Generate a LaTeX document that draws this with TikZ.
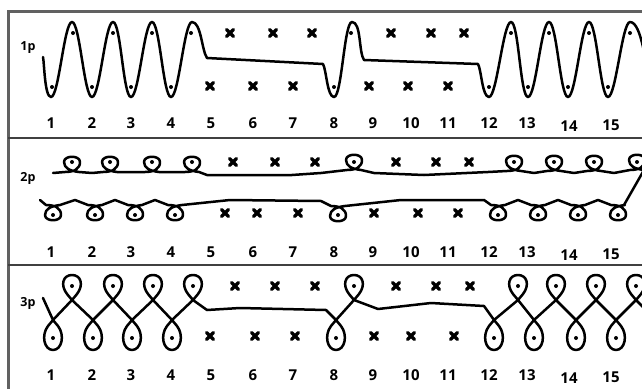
\documentclass[tikz,border=0pt]{standalone}
\usepackage{fontspec}
\setmainfont{Open Sans}

% curl of a running line: above it (2p top) / below it (2p bottom)
\newcommand{\hiloop}[2]{-- (#1-7,#2) .. controls (#1+2,#2) and (#1+8,#2-3) .. (#1+8,#2-10) .. controls (#1+8,#2-17) and (#1-8,#2-17) .. (#1-8,#2-10) .. controls (#1-8,#2-4) and (#1-2,#2-1) .. (#1+7,#2)}
\newcommand{\loloop}[2]{-- (#1-7,#2) .. controls (#1+2,#2) and (#1+8,#2+3) .. (#1+8,#2+10) .. controls (#1+8,#2+17) and (#1-8,#2+17) .. (#1-8,#2+10) .. controls (#1-8,#2+4) and (#1-2,#2+1) .. (#1+7,#2)}
% teardrops of the figure-eight chain (3p)
\newcommand{\updrop}[1]{-- (#1,300) -- (#1+5,294) .. controls (#1+12,285) and (#1+9,275) .. (#1,275) .. controls (#1-9,275) and (#1-12,285) .. (#1-5,294) -- (#1,300)}
\newcommand{\dndrop}[1]{-- (#1,320) -- (#1+5,326) .. controls (#1+12,335) and (#1+9,350) .. (#1,350) .. controls (#1-9,350) and (#1-12,335) .. (#1-5,326) -- (#1,320)}

\begin{document}
\begin{tikzpicture}[x=1pt,y=-1pt,
    wave/.style={line width=2.5pt, line join=round, line cap=round},
    sine/.style={out=0, in=180, looseness=0.26},
    frame/.style={line width=3pt, black!62},
    rule/.style={line width=2.5pt, black!75},
    xmark/.pic={\draw[line width=3.4pt, line cap=round] (-3.4,-3.4) -- (3.4,3.4) (-3.4,3.4) -- (3.4,-3.4);},
    dot/.style={circle, fill, inner sep=0pt, minimum size=4pt},
    num/.style={font=\bfseries\fontsize{15}{15}\selectfont},
    tag/.style={font=\bfseries\fontsize{12.5}{12.5}\selectfont}]
    \useasboundingbox (0,0) rectangle (642,388);

    % frame and panel rules
    \draw[frame] (8,390) -- (8,11) -- (645,11);
    \draw[rule] (8,138) -- (645,138);
    \draw[rule] (8,265) -- (645,265);

    % position numbers in each panel
    \foreach \i/\x/\d in {1/51/0,2/92/0,3/131/0,4/171/0,5/211/0,6/253/0,7/293/0,8/334/0,
                          9/373/0,10/411/0,11/448/0,12/489/0,13/527/0,14/569/3,15/611/2} {
        \node[num] (a\i) at (\x,123+\d) {\i};
        \node[num] (b\i) at (\x,252+\d) {\i};
        \node[num] (c\i) at (\x,375+\d) {\i};
    }
    \node[tag] (p1) at (28,48) {1p};
    \node[tag] (p2) at (28,178) {2p};
    \node[tag] (p3) at (28,303) {3p};

    % 1p: sine wave
    \draw[wave] (43,57) to[out=-78,in=180,looseness=0.4] (51,97)
        to[sine] (72,22) to[sine] (92,97) to[sine] (113,22) to[sine] (131,97)
        to[sine] (152,22) to[sine] (171,97) to[sine] (192,22)
        to[out=0,in=125,looseness=0.6] (207,58) -- (323,64)
        to[out=-60,in=180,looseness=0.5] (334,97) to[sine] (352,22)
        to[out=0,in=125,looseness=0.6] (364,60) -- (478,64)
        to[out=-60,in=180,looseness=0.5] (489,97) to[sine] (511,22) to[sine] (528,97)
        to[sine] (549,22) to[sine] (568,97) to[sine] (589,22) to[sine] (608,97)
        to[sine] (630,22) to[out=0,in=110,looseness=0.5] (650,80);
    \foreach \x [count=\k] in {52,92,131,171,334,489,528,568,608}
        \node[dot] (d1l\k) at (\x,87) {};
    \foreach \x [count=\k] in {73,113,152,191,351,511,549,589,630}
        \node[dot] (d1u\k) at (\x,33) {};
    \foreach \x [count=\k] in {230,273,312,391,431,464}
        \pic (x1u\k) at (\x,33) {xmark};
    \foreach \x [count=\k] in {210,253,293,369,408,448}
        \pic (x1l\k) at (\x,86) {xmark};

    % 2p: two curled lines
    \draw[wave] (53,173) \hiloop{72}{172} -- (92,173) \hiloop{110}{172}
        -- (132,172) \hiloop{152}{172} -- (172,172) \hiloop{192}{172}
        -- (207,175) -- (292,175) -- (321,173) \hiloop{354}{170}
        -- (374,173) -- (424,175) -- (488,172) \hiloop{514}{171}
        -- (534,173) \hiloop{554}{171} -- (574,173) \hiloop{594}{171}
        -- (614,173) \hiloop{637}{170} -- (624,205);
    \draw[wave] (40,200) \loloop{53}{205} -- (75,200) \loloop{95}{205}
        -- (115,200) \loloop{135}{205} -- (155,200) \loloop{175}{205}
        -- (230,200) -- (321,201) \loloop{338}{206} -- (401,200) -- (484,200)
        \loloop{498}{205} -- (518,200) \loloop{538}{205} -- (558,200)
        \loloop{578}{205} -- (598,200) \loloop{618}{205};
    \foreach \x [count=\k] in {72,110,152,192,354,514,554,594,637}
        \node[dot] (d2u\k) at (\x,162) {};
    \foreach \x [count=\k] in {53,95,135,175,338,498,538,578,618}
        \node[dot] (d2l\k) at (\x,215) {};
    \foreach \x [count=\k] in {233,275,315,396,436,469}
        \pic (x2u\k) at (\x,162) {xmark};
    \foreach \x [count=\k] in {225,257,298,374,418,458}
        \pic (x2l\k) at (\x,213) {xmark};

    % 3p: figure-eight chain
    \draw[wave] (43,298) \dndrop{53} \updrop{72} \dndrop{93} \updrop{113}
        \dndrop{132} \updrop{153} \dndrop{172} \updrop{193}
        -- (207,310) -- (240,308) -- (326,310) \dndrop{336} \updrop{354}
        -- (378,309) -- (431,303) -- (484,306) \dndrop{494} \updrop{518}
        \dndrop{534} \updrop{556} \dndrop{576} \updrop{596} \dndrop{616} \updrop{636}
        -- (650,314);
    \foreach \x [count=\k] in {72,113,153,193,354,518,556,596,636}
        \node[dot] (d3u\k) at (\x,286) {};
    \foreach \x [count=\k] in {53,93,132,172,336,494,534,576,616}
        \node[dot] (d3l\k) at (\x,338) {};
    \foreach \x [count=\k] in {235,275,315,396,436,470}
        \pic (x3u\k) at (\x,286) {xmark};
    \foreach \x [count=\k] in {210,255,295,374,411,454}
        \pic (x3l\k) at (\x,336) {xmark};
\end{tikzpicture}
\end{document}
